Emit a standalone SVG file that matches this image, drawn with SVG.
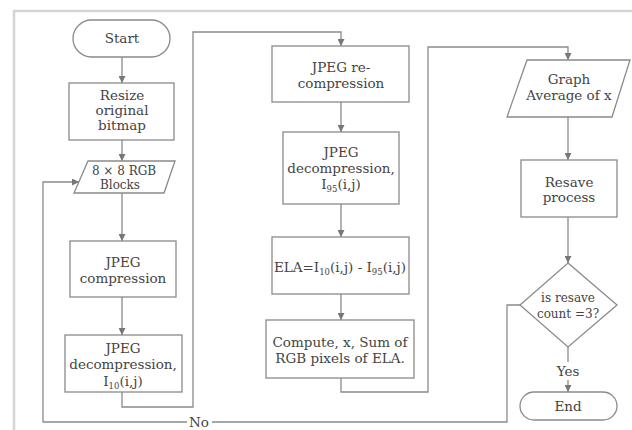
<svg xmlns="http://www.w3.org/2000/svg" width="632" height="430" viewBox="0 0 632 430">
<style>
.b{fill:#fff;stroke:#8a8a8a;stroke-width:1.3}
.c{fill:none;stroke:#8a8a8a;stroke-width:1.3}
.f{fill:none;stroke:#d4d4d4;stroke-width:2.5}
text{font-family:"DejaVu Serif","Liberation Serif",serif;font-size:13.5px;fill:#444;text-anchor:middle}
.s{font-size:8.5px}
.m{font-size:12px}
</style>
<defs>
<marker id="ah" viewBox="0 0 8 8" refX="8" refY="4" markerWidth="7" markerHeight="7" markerUnits="userSpaceOnUse" orient="auto">
<path d="M0,0 L8,4 L0,8 z" fill="#777"/>
</marker>
</defs>
<rect width="632" height="430" fill="#fff"/>
<path class="f" d="M14,430 V11 H632"/>
<g id="connectors">
<path class="c" d="M122,57 V83" marker-end="url(#ah)"/>
<path class="c" d="M122,140 V161" marker-end="url(#ah)"/>
<path class="c" d="M122,193 V241" marker-end="url(#ah)"/>
<path class="c" d="M122,297 V335" marker-end="url(#ah)"/>
<path class="c" d="M122,392 V407 H193 V32 H341 V46" marker-end="url(#ah)"/>
<path class="c" d="M341,102 V132" marker-end="url(#ah)"/>
<path class="c" d="M341,204 V237" marker-end="url(#ah)"/>
<path class="c" d="M341,294 V320" marker-end="url(#ah)"/>
<path class="c" d="M341,378 V392 H428 V47 H568 V60" marker-end="url(#ah)"/>
<path class="c" d="M568,117 V160" marker-end="url(#ah)"/>
<path class="c" d="M568,217 V263" marker-end="url(#ah)"/>
<path class="c" d="M568,347 V362"/>
<path class="c" d="M568,380 V392" marker-end="url(#ah)"/>
<path class="c" d="M520,305 H507 V422 H212"/>
<path class="c" d="M187,422 H43 V182 H79" marker-end="url(#ah)"/>
<text x="199" y="427">No</text>
<text x="568" y="376">Yes</text>
</g>
<g id="start">
<rect class="b" x="73" y="20" width="97" height="37" rx="18.5"/>
<text x="122" y="43">Start</text>
</g>
<g id="resize">
<rect class="b" x="69" y="83" width="105" height="57"/>
<text x="122" y="100">Resize</text>
<text x="122" y="115">original</text>
<text x="122" y="130">bitmap</text>
</g>
<g id="blocks">
<path class="b" d="M88,161 H175 L164,193 H74 Z"/>
<text class="m" x="124" y="175">8 × 8 RGB</text>
<text class="m" x="120" y="189">Blocks</text>
</g>
<g id="jpeg-compression">
<rect class="b" x="70" y="241" width="106" height="56"/>
<text x="123" y="267">JPEG</text>
<text x="123" y="283">compression</text>
</g>
<g id="jpeg-decompression-1">
<rect class="b" x="65" y="335" width="117" height="57"/>
<text x="123" y="353">JPEG</text>
<text x="123" y="369">decompression,</text>
<text x="123" y="386">I<tspan class="s" dy="3">10</tspan><tspan dy="-3">(i,j)</tspan></text>
</g>
<g id="jpeg-recompression">
<rect class="b" x="272" y="46" width="137" height="56"/>
<text x="341" y="72">JPEG re-</text>
<text x="341" y="88">compression</text>
</g>
<g id="jpeg-decompression-2">
<rect class="b" x="283" y="132" width="116" height="72"/>
<text x="341" y="157">JPEG</text>
<text x="341" y="173">decompression,</text>
<text x="341" y="189">I<tspan class="s" dy="3">95</tspan><tspan dy="-3">(i,j)</tspan></text>
</g>
<g id="ela">
<rect class="b" x="272" y="237" width="137" height="57"/>
<text x="340" y="272">ELA=I<tspan class="s" dy="3">10</tspan><tspan dy="-3">(i,j) - I</tspan><tspan class="s" dy="3">95</tspan><tspan dy="-3">(i,j)</tspan></text>
</g>
<g id="compute">
<rect class="b" x="266" y="320" width="148" height="58"/>
<text x="340" y="347">Compute, x, Sum of</text>
<text x="340" y="363">RGB pixels of ELA.</text>
</g>
<g id="graph">
<path class="b" d="M527,60 H630 L612,117 H507 Z"/>
<text x="569" y="84">Graph</text>
<text x="569" y="100">Average of x</text>
</g>
<g id="resave">
<rect class="b" x="521" y="160" width="96" height="57"/>
<text x="569" y="187">Resave</text>
<text x="569" y="202">process</text>
</g>
<g id="decision">
<path class="b" d="M568,263 L617,305 L568,347 L520,305 Z"/>
<text class="m" x="568" y="302">is resave</text>
<text class="m" x="568" y="318">count =3?</text>
</g>
<g id="end">
<rect class="b" x="520" y="392" width="97" height="28" rx="14"/>
<text x="568" y="411">End</text>
</g>
</svg>
